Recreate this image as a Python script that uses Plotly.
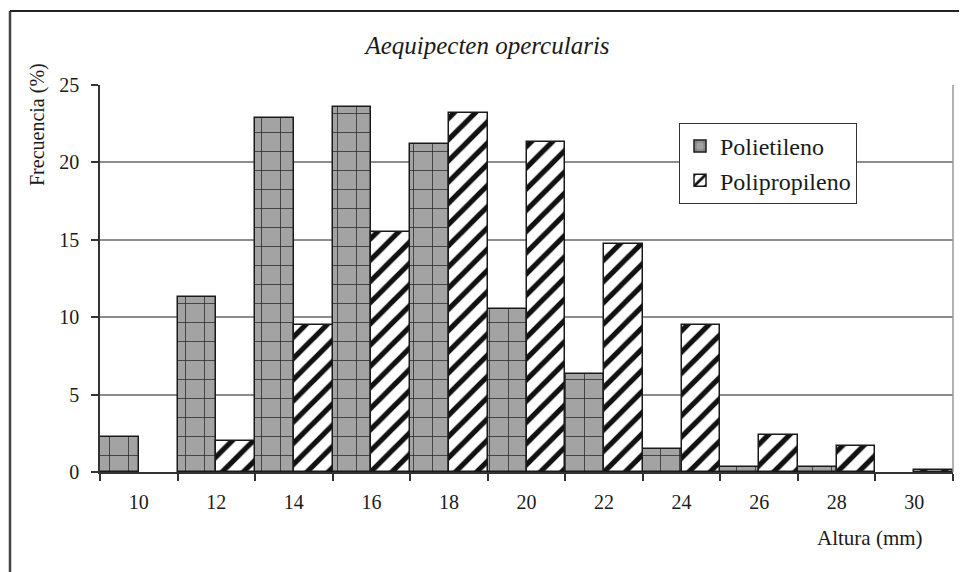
import plotly.graph_objects as go

categories = ["10", "12", "14", "16", "18", "20", "22", "24", "26", "28", "30"]
polietileno = [2.25, 11.3, 22.9, 23.6, 21.2, 10.5, 6.3, 1.5, 0.3, 0.3, 0.0]
polipropileno = [0.0, 2.0, 9.5, 15.5, 23.2, 21.3, 14.7, 9.5, 2.4, 1.7, 0.15]

FONT = "Liberation Serif, Times New Roman, serif"

# page offset of the figure (body margin) and plot area in page pixels
OFF = 8
PL, PR, PT, PB = 100, 953, 85, 472
W, H = 967 - OFF, 572 - OFF


def px(x):
    return (x - PL) / (PR - PL)


def py(y):
    return (PB - y) / (PB - PT)


def nz(vals):
    return [v if v > 0 else None for v in vals]


fig = go.Figure()
fig.add_trace(go.Bar(
    x=categories, y=nz(polietileno), name="Polietileno",
    legendgroup="a",
    marker=dict(
        color="#a3a3a3",
        line=dict(color="#1a1a1a", width=1.5),
        pattern=dict(shape="+", fgcolor="#2a2a2a", bgcolor="#a3a3a3",
                     size=19, solidity=0.08, fillmode="replace"),
    ),
))
fig.add_trace(go.Bar(
    x=categories, y=nz(polipropileno), name="Polipropileno",
    legendgroup="b",
    marker=dict(
        color="white",
        line=dict(color="#1a1a1a", width=1.5),
        pattern=dict(shape="/", fgcolor="#111111", bgcolor="white",
                     size=15, solidity=0.35, fillmode="replace"),
    ),
))

fig.update_layout(
    width=W, height=H,
    margin=dict(l=PL - OFF, r=W - (PR - OFF), t=PT - OFF, b=H - (PB - OFF)),
    paper_bgcolor="white", plot_bgcolor="white",
    barmode="group", bargap=0, bargroupgap=0,
    font=dict(family=FONT, size=20, color="#1a1a1a"),
    title=dict(text="<i>Aequipecten opercularis</i>", xref="container", x=0.5,
               y=1 - (45 - OFF) / H, yanchor="middle", xanchor="center",
               font=dict(family=FONT, size=25, color="#1a1a1a")),
    legend=dict(x=px(679), y=py(123), xanchor="left", yanchor="top",
                bordercolor="#333333", borderwidth=1, bgcolor="white",
                font=dict(family=FONT, size=24, color="#1a1a1a"),
                traceorder="grouped", tracegroupgap=0,
                itemwidth=30),
    showlegend=True,
)

fig.update_xaxes(
    type="category", tickson="boundaries", ticks="outside", ticklen=7,
    tickcolor="#333333", tickwidth=1.5,
    showline=True, linecolor="#333333", linewidth=1.5,
    showgrid=False, ticklabelstandoff=11,
    tickfont=dict(family=FONT, size=20),
)
fig.update_yaxes(
    range=[0, 25], dtick=5, ticks="outside", ticklen=7,
    tickcolor="#333333", tickwidth=1.5,
    showline=True, linecolor="#333333", linewidth=1.5,
    showgrid=True, gridcolor="#8c8c8c", gridwidth=1.5,
    zeroline=False, ticklabelstandoff=8,
    tickfont=dict(family=FONT, size=20),
)

# plot area right border
fig.add_shape(type="line", xref="paper", yref="paper", x0=1, x1=1, y0=0, y1=1,
              line=dict(color="#999999", width=1.5))
# outer frame (left and top edges)
fig.add_shape(type="line", xref="paper", yref="paper",
              x0=px(10), x1=px(10), y0=py(575), y1=py(11),
              line=dict(color="#444444", width=2.5))
fig.add_shape(type="line", xref="paper", yref="paper",
              x0=px(10), x1=px(970), y0=py(11), y1=py(11),
              line=dict(color="#222222", width=2))

fig.add_annotation(text="Frecuencia (%)", xref="paper", yref="paper",
                   x=px(37), y=py(125), textangle=-90,
                   showarrow=False, xanchor="center", yanchor="middle",
                   font=dict(family=FONT, size=20, color="#1a1a1a"))
fig.add_annotation(text="Altura (mm)", xref="paper", yref="paper",
                   x=px(870), y=py(538),
                   showarrow=False, xanchor="center", yanchor="middle",
                   font=dict(family=FONT, size=21, color="#1a1a1a"))

fig.write_html("out.html")
